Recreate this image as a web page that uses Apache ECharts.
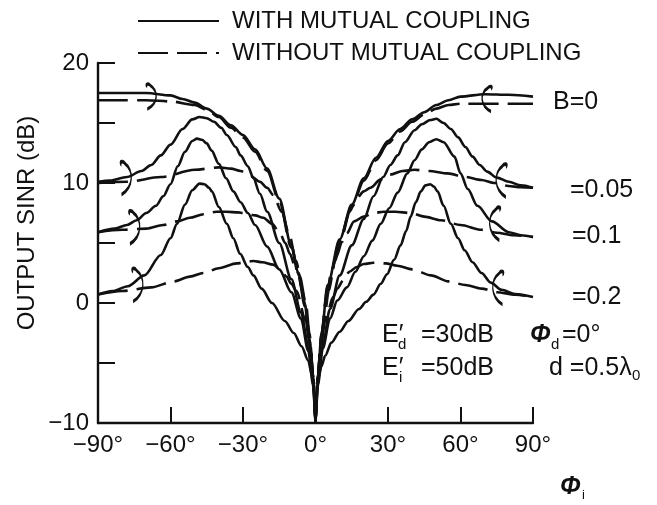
<!DOCTYPE html>
<html>
<head>
<meta charset="utf-8">
<script src="https://cdn.jsdelivr.net/npm/echarts@6/dist/echarts.min.js"></script>
<style>
  html, body { margin: 0; padding: 0; background: #fff; }
  #chart { width: 657px; height: 505px; }
</style>
</head>
<body>
<div id="chart"></div>
<script>
// output SINR (dB) vs interference angle phi_i (deg)
const withB0 = [[-90,17.5],[-80,17.5],[-70,17.5],[-60,17.3],[-55,17.0],[-50,16.7],[-45,16.2],[-40,15.6],[-35,14.8],[-30,14.0],[-25,12.8],[-20,11.2],[-15,8.7],[-10,4.8],[-7,2.5],[-4.5,0],[-2.5,-3],[-1,-6],[0,-10],
  [1,-6],[2.5,-2.5],[5,1.5],[10,5.3],[15,8.2],[20,10.4],[25,12.1],[30,13.5],[35,14.5],[40,15.3],[45,15.9],[50,16.5],[55,16.9],[60,17.2],[70,17.4],[80,17.35],[90,17.2]]
const withB005 = [[-90,10.1],[-85,10.2],[-78,10.5],[-72,11.0],[-68,11.5],[-64,12.3],[-60,13.2],[-55,14.5],[-51,15.3],[-48,15.5],[-45,15.4],[-42,15.1],[-39,14.6],[-36.7,14.0],[-33,13.0],[-31,12.3],[-28,11.4],[-25.7,10.4],[-23,9.1],[-20,7.6],[-15,5.0],[-10,2.0],[-6,-0.8],[-3,-3.5],[-1,-6.5],[0,-10],
  [1,-6.5],[3,-3.5],[6,-0.5],[10,2.3],[15,4.8],[20,7.0],[24,8.9],[28,10.5],[31,11.5],[34,12.3],[37,13.4],[41,14.4],[44,14.9],[47.5,15.25],[50,15.35],[53,15.0],[56,14.5],[59,13.8],[62,13.0],[65,12.2],[68,11.5],[71,10.95],[75,10.45],[80,10.1],[85,9.8],[90,9.6]]
const withB01 = [[-90,5.9],[-83,6.2],[-78,6.5],[-74,6.9],[-70,7.5],[-66,8.1],[-63,8.9],[-60,9.9],[-57,11.4],[-54,12.6],[-51,13.5],[-49,13.7],[-47,13.6],[-45,13.3],[-43,12.7],[-40,11.6],[-37,10.4],[-34,9.3],[-31,8.4],[-28,7.5],[-25,6.5],[-20,4.7],[-15,2.8],[-10,0.9],[-6,-1.3],[-3,-4],[-1,-6.8],[0,-10],
  [1,-6.8],[3,-3.8],[6,-1.3],[9,0.2],[13,1.3],[16.5,2.6],[20,3.9],[23.5,5.2],[27,6.6],[30.5,7.9],[34,9.2],[38,10.8],[41,11.9],[44,12.8],[47,13.4],[50,13.65],[53,13.4],[57.5,12.2],[60,10.8],[63,9.5],[67,8.1],[73,6.8],[80,5.9],[85,5.65],[90,5.5]]
const withB02 = [[-90,0.7],[-84,1.0],[-77.6,1.4],[-70.8,2.3],[-64,4.0],[-60,5.4],[-57.3,6.6],[-54,8.2],[-51,9.4],[-48,9.95],[-46,9.9],[-44,9.6],[-42.9,9.3],[-40,8.0],[-36.7,6.6],[-34,5.4],[-31.2,4.1],[-28,3.0],[-25.7,2.3],[-22.3,1.2],[-18,0.0],[-12.7,-1.5],[-9,-2.5],[-5.8,-3.6],[-3,-4.8],[-1.5,-6],[0,-10],
  [1.5,-6],[2.4,-5.3],[4,-4.4],[6.6,-3.3],[10,-2.4],[13.6,-1.5],[18,-0.5],[21,0.1],[24,0.7],[27,1.6],[29.6,2.4],[32.5,3.6],[35.2,4.8],[37.5,6.0],[39.4,7.2],[41.5,8.4],[43.6,9.3],[45.5,9.8],[47.5,9.9],[49,9.7],[50.5,9.3],[53,8.1],[56,6.6],[59,5.4],[61.7,4.4],[65,3.4],[68.7,2.5],[72.5,1.7],[77,1.1],[82.6,0.75],[90,0.5]]

const withoutB0 = [[-90,16.9],[-80,16.9],[-70,16.9],[-60,16.8],[-50,16.5],[-45,16.1],[-40,15.5],[-35,14.6],[-30,13.8],[-25,12.6],[-20,11.0],[-15,8.5],[-10,4.6],[-7,2.3],[-4.5,-0.2],[-2.5,-3.2],[-1,-6.2],[0,-10],
  [1,-6.2],[2.5,-2.7],[5,1.3],[10,5.1],[15,8.0],[20,10.2],[25,11.9],[30,13.3],[35,14.3],[40,15.1],[45,15.7],[50,16.2],[55,16.5],[60,16.6],[70,16.6],[80,16.6],[90,16.6]]
const withoutB005 = [[-90,10.0],[-78,10.1],[-64,10.5],[-50,11.1],[-40,11.3],[-35,11.2],[-31,11.0],[-27,10.6],[-23,10.1],[-20,9.6],[-17.5,9.0],[-14,7.6],[-11,5.8],[-8,3.5],[-5.5,1.0],[-3.5,-1.5],[-2,-4],[-0.8,-6.5],[0,-10],
  [0.8,-6.5],[2,-4],[3.5,-1.5],[5.5,1.0],[8,3.5],[11,5.8],[14,7.6],[17,8.7],[20,9.3],[22.7,9.6],[27,10.3],[31,10.7],[36,11.0],[41,11.1],[47,11.0],[54.7,10.8],[62,10.5],[68.7,10.25],[74,10.0],[79.8,9.75],[85,9.65],[90,9.6]]
const withoutB01 = [[-90,5.9],[-80,6.1],[-70,6.2],[-63,6.5],[-57.3,6.8],[-52,7.1],[-46.3,7.4],[-41,7.6],[-36.7,7.6],[-32,7.55],[-29.8,7.5],[-25,7.3],[-21.6,7.1],[-18,6.6],[-14.7,5.8],[-12.5,5.0],[-10.6,4.1],[-8.5,3.1],[-6.5,2.2],[-4,0],[-2.5,-2.5],[-1,-6],[0,-10],
  [1,-6],[2.5,-2.5],[4.5,0.5],[6.5,2.5],[8.7,3.9],[11,5.1],[12.9,5.8],[16,6.8],[19.9,7.2],[24,7.5],[28.2,7.6],[33,7.6],[39.4,7.5],[45,7.2],[52,6.9],[60,6.5],[68.7,6.1],[75,5.85],[82,5.65],[90,5.5]]
const withoutB02 = [[-90,0.7],[-80,1.0],[-68,1.3],[-58.6,1.8],[-52,2.2],[-46.3,2.5],[-40,2.9],[-32.6,3.3],[-28,3.45],[-25.7,3.5],[-22,3.4],[-17.5,3.2],[-14.5,2.8],[-12,2.2],[-10,1.6],[-7.9,1.0],[-4,-1.5],[-2,-4],[-0.8,-6.5],[0,-10],
  [0.8,-6.5],[2,-4],[4,-1.5],[7.3,0.5],[9,1.2],[11.5,1.9],[14,2.6],[17.1,3.0],[20,3.25],[24,3.35],[29,3.3],[33.8,3.1],[40,2.8],[47.8,2.3],[55,1.8],[62,1.5],[68.7,1.2],[75,0.9],[82.6,0.7],[90,0.5]]

// little loop marks tying each solid/dashed pair together
const bracketsLeft = [[-68,17.2],[-78.5,10.4],[-75,6.3],[-73.7,1.5]]
const bracketsRight = [[71,17.0],[77,10.2],[74.3,6.6],[75.6,1.25]]

const bLabels = ['B=0', '=0.05', '=0.1', '=0.2']
const legendNames = ['WITH MUTUAL COUPLING', 'WITHOUT MUTUAL COUPLING']

const font = '"Liberation Sans", Arial, sans-serif'
const ink = '#111'

const chart = echarts.init(document.getElementById('chart'))

// split a curve at phi = 0 so the cusp stays sharp
const halves = (pts) => [pts.filter(p => p[0] <= 0), pts.filter(p => p[0] >= 0)]

const lineSeries = (name, pts, dashed) => ({
  name,
  type: 'line',
  data: pts,
  symbol: 'none',
  showSymbol: false,
  smooth: 0.3,
  smoothMonotone: 'x',
  silent: true,
  z: dashed ? 2 : 3,
  itemStyle: { color: ink },
  lineStyle: { color: ink, width: 2.6, type: dashed ? [30, 9] : 'solid' }
})

const series = []
;[withB0, withB005, withB01, withB02].forEach(c => halves(c).forEach(h => series.push(lineSeries(legendNames[0], h, false))))
;[withoutB0, withoutB005, withoutB01, withoutB02].forEach(c => halves(c).forEach(h => series.push(lineSeries(legendNames[1], h, true))))

const bracketSeries = (pts, path) => ({
  name: 'loops',
  type: 'scatter',
  data: pts,
  silent: true,
  z: 4,
  symbol: path,
  symbolSize: (v, p) => (p.dataIndex === 0 ? [10, 25] : [11, 33]),
  itemStyle: { color: 'rgba(0,0,0,0)', borderColor: ink, borderWidth: 2.2, opacity: 1 }
})
series.push(bracketSeries(bracketsLeft, 'path://M3,4 C1,1 4,0 5,3 C10,9 10,24 3,31'))
series.push(bracketSeries(bracketsRight, 'path://M7,4 C9,1 6,0 5,3 C0,9 0,24 7,31'))

const txt = (x, y, text, size, extra) => ({
  type: 'text', x, y, silent: true,
  style: Object.assign({ text, font: size + 'px ' + font, fill: ink, align: 'left', verticalAlign: 'middle', textAlign: 'left', textVerticalAlign: 'middle' }, extra || {})
})

const bLabelPos = [[553, 102], [570, 190], [572, 236], [572, 297]]

const graphic = [
  Object.assign(txt(27, 223, 'OUTPUT SINR (dB)', 24, { align: 'center', textAlign: 'center' }), { rotation: Math.PI / 2 }),
  ...bLabels.map((t, i) => txt(bLabelPos[i][0], bLabelPos[i][1], t, 25)),
  txt(382, 335, 'E′', 25), txt(398, 345, 'd', 15), txt(421, 335, '=30dB', 25),
  txt(530, 335, 'Φ', 25, { font: 'italic bold 25px ' + font }), txt(551, 345, 'd', 15), txt(562, 335, '=0°', 25),
  txt(382, 368, 'E′', 25), txt(399, 378, 'i', 15), txt(421, 368, '=50dB', 25),
  txt(549, 368, 'd =0.5λ', 25), txt(632, 376, '0', 15),
  txt(560, 487, 'Φ', 25, { font: 'italic bold 25px ' + font }), txt(582, 495, 'i', 13)
]

const option = {
  animation: false,
  backgroundColor: '#fff',
  grid: { left: 98, right: 124, top: 63, bottom: 82 },
  legend: {
    data: legendNames,
    orient: 'vertical',
    left: 132,
    top: 4,
    itemWidth: 81,
    itemHeight: 12,
    itemGap: 8,
    selectedMode: false,
    itemStyle: { opacity: 0 },
    textStyle: { fontFamily: font, fontSize: 24, color: ink, padding: [0, 0, 0, 8] }
  },
  xAxis: {
    type: 'value',
    min: -90,
    max: 90,
    interval: 30,
    axisLine: { onZero: false, lineStyle: { color: ink, width: 2.4 } },
    axisTick: { inside: true, length: 16, lineStyle: { color: ink, width: 2 } },
    splitLine: { show: false },
    axisLabel: {
      margin: 10,
      color: ink,
      fontFamily: font,
      fontSize: 24,
      formatter: v => (v < 0 ? '−' + (-v) : v) + '°'
    }
  },
  yAxis: {
    type: 'value',
    min: -10,
    max: 20,
    interval: 5,
    axisLine: { onZero: false, lineStyle: { color: ink, width: 2.4 } },
    axisTick: { inside: true, length: 17, lineStyle: { color: ink, width: 2 } },
    splitLine: { show: false },
    axisLabel: {
      margin: 9,
      color: ink,
      fontFamily: font,
      fontSize: 24,
      formatter: v => (v % 10 === 0 ? (v < 0 ? '−' + (-v) : String(v)) : '')
    }
  },
  graphic,
  series
}

chart.setOption(option)
</script>
</body>
</html>
